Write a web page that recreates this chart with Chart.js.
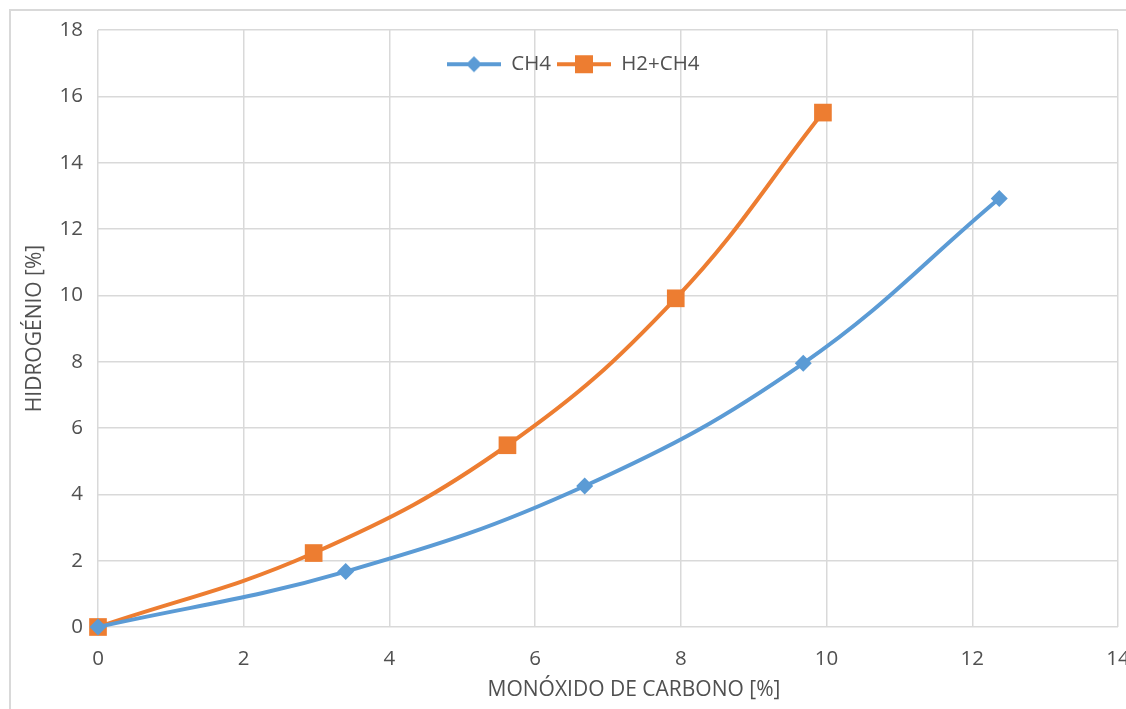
<!DOCTYPE html>
<html>
<head>
<meta charset="utf-8">
<script src="https://cdn.jsdelivr.net/npm/chart.js@4"></script>
<style>
  html, body { margin: 0; padding: 0; background: #fff; overflow: hidden; width: 1126px; height: 709px; }
  #frame { position: absolute; left: 9px; top: 9px; width: 1200px; height: 800px; border: 2px solid #D9D9D9; box-sizing: border-box; }
  #wrap { position: absolute; left: 0; top: 0; width: 1160px; height: 740px; }
</style>
</head>
<body>
<div id="frame"></div>
<div id="wrap"><canvas id="c" width="1160" height="740"></canvas></div>
<script>
// Data
const ch4X = [0, 3.40, 6.68, 9.68, 12.37];
const ch4Y = [0, 1.67, 4.25, 7.95, 12.92];
const h2X = [0, 2.96, 5.62, 7.93, 9.95];
const h2Y = [0, 2.23, 5.48, 9.91, 15.51];
const seriesNames = ['CH4', 'H2+CH4'];
const xTitle = 'MONÓXIDO DE CARBONO [%]';
const yTitle = 'HIDROGÉNIO [%]';

const BLUE = '#5B9BD5';
const ORANGE = '#ED7D31';
const GRID = '#D9D9D9';
const TEXT = '#505050';
const FONT = "'Open Sans', sans-serif";
const ICON_W = 54;

function toPts(xs, ys) { return xs.map((x, i) => ({x: x, y: ys[i]})); }

function legendIcon(color, shape) {
  const c = document.createElement('canvas');
  c.width = ICON_W; c.height = 20;
  const g = c.getContext('2d');
  const mid = ICON_W / 2;
  g.strokeStyle = color; g.lineWidth = 4;
  g.beginPath(); g.moveTo(0, 10); g.lineTo(ICON_W, 10); g.stroke();
  g.fillStyle = color;
  if (shape === 'diamond') {
    g.beginPath(); g.moveTo(mid, 2); g.lineTo(mid + 8, 10); g.lineTo(mid, 18); g.lineTo(mid - 8, 10); g.closePath(); g.fill();
  } else {
    g.fillRect(mid - 9, 1, 18, 18);
  }
  return c;
}

const icons = [legendIcon(BLUE, 'diamond'), legendIcon(ORANGE, 'square')];

const tweaks = {
  id: 'tweaks',
  afterInit(chart) {
    if (chart.legend) chart.legend.isHorizontal = () => true;
  },
  afterLayout(chart) {
    const l = chart.legend;
    if (l) {
      const dx = 441 - l.left;
      const dy = 48 - l.top;
      l.left += dx; l.right += dx;
      l.top += dy; l.bottom += dy;
    }
    const xs = chart.scales.x;
    if (xs && !xs._titlePatched) {
      const orig = xs.drawTitle;
      xs.drawTitle = function () {
        const L = this.left, R = this.right;
        this.left += 26; this.right += 26;
        orig.apply(this, arguments);
        this.left = L; this.right = R;
      };
      xs._titlePatched = true;
    }
  }
};

new Chart(document.getElementById('c'), {
  type: 'scatter',
  data: {
    datasets: [
      {
        label: seriesNames[0],
        data: toPts(ch4X, ch4Y),
        showLine: true,
        clip: false,
        borderColor: BLUE,
        backgroundColor: BLUE,
        borderWidth: 4,
        tension: 0.4,
        pointStyle: 'rectRot',
        pointRadius: 8.5,
        pointBorderWidth: 0,
        pointBackgroundColor: BLUE
      },
      {
        label: seriesNames[1],
        data: toPts(h2X, h2Y),
        showLine: true,
        clip: false,
        borderColor: ORANGE,
        backgroundColor: ORANGE,
        borderWidth: 4,
        tension: 0.4,
        pointStyle: 'rect',
        pointRadius: 12.5,
        pointBorderWidth: 0,
        pointBackgroundColor: ORANGE
      }
    ]
  },
  options: {
    responsive: false,
    animation: false,
    layout: { padding: { left: 0, top: 30, right: 42, bottom: 0 } },
    plugins: {
      tooltip: { enabled: false },
      legend: {
        position: 'chartArea',
        align: 'start',
        labels: {
          usePointStyle: true,
          pointStyleWidth: ICON_W,
          padding: 6,
          color: TEXT,
          font: { family: FONT, size: 20.5 },
          generateLabels(chart) {
            return chart.data.datasets.map((ds, i) => ({
              text: ds.label,
              fillStyle: ds.borderColor,
              strokeStyle: ds.borderColor,
              lineWidth: 0,
              pointStyle: icons[i],
              datasetIndex: i,
              hidden: false,
              fontColor: TEXT
            }));
          }
        }
      }
    },
    scales: {
      x: {
        type: 'linear',
        min: 0, max: 14,
        afterFit(s) { s.height = 113; },
        ticks: { stepSize: 2, color: TEXT, padding: 20, font: { family: FONT, size: 20.5 } },
        grid: { color: GRID, lineWidth: 1.5, drawTicks: false },
        border: { display: false },
        title: { display: true, text: xTitle, color: TEXT, font: { family: FONT, size: 21, lineHeight: 1.2 }, padding: { top: 0, bottom: 37 } }
      },
      y: {
        type: 'linear',
        min: 0, max: 18,
        afterFit(s) { s.width = 98; },
        ticks: { stepSize: 2, color: TEXT, padding: 15, font: { family: FONT, size: 20.5 } },
        grid: { color: GRID, lineWidth: 1.5, drawTicks: false },
        border: { display: false },
        title: { display: true, text: yTitle, color: TEXT, font: { family: FONT, size: 21, lineHeight: 1.2 }, padding: { top: 22, bottom: 0 } }
      }
    }
  },
  plugins: [tweaks]
});
</script>
</body>
</html>
